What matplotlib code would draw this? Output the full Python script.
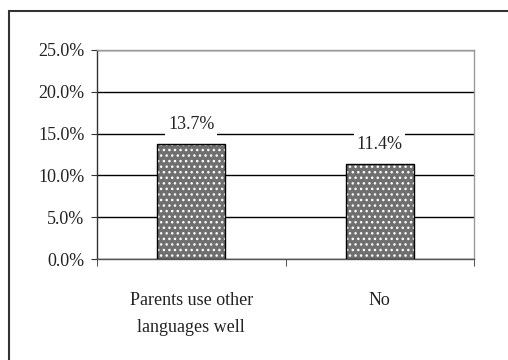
import matplotlib
matplotlib.use("Agg")
import matplotlib.pyplot as plt
from matplotlib.patches import Rectangle
from matplotlib.ticker import FixedLocator, FuncFormatter

categories = ["Parents use other\nlanguages well", "No"]
values = [13.7, 11.4]
yticks = [0, 5, 10, 15, 20, 25]

plt.rcParams['font.family'] = ['Liberation Serif', 'DejaVu Serif']
plt.rcParams['hatch.linewidth'] = 1.0

fig = plt.figure(figsize=(5.08, 3.6), dpi=100)
ax = fig.add_axes([97/508, 1-259/360, (474-97)/508, (259-50)/360])

x = list(range(len(categories)))
ax.bar(x, values, width=0.36, color='#6f6f6f', edgecolor='white', hatch='...', linewidth=0, zorder=3)
ax.bar(x, values, width=0.36, fill=False, edgecolor='black', linewidth=1.0, zorder=4)

for xi, v in zip(x, values):
    ax.annotate(f"{v:.1f}%", (xi, v), xytext=(0, 8), textcoords='offset points',
                ha='center', va='bottom', fontsize=13, color='#222222', zorder=5,
                bbox=dict(boxstyle='square,pad=0.15', fc='white', ec='none'))

ax.set_ylim(0, 25)
ax.set_xlim(-0.5, 1.5)
ax.set_yticks(yticks)
ax.yaxis.set_major_formatter(FuncFormatter(lambda v, p: f"{v:.1f}%"))
ax.yaxis.grid(True, color='black', linewidth=1.0, zorder=0)
ax.set_axisbelow(True)

ax.set_xticks(x)
ax.set_xticklabels(categories, fontsize=13, linespacing=1.75, color='#222222')
ax.tick_params(axis='x', which='major', length=0, pad=24)
ax.xaxis.set_minor_locator(FixedLocator([-0.5, 0.5, 1.5]))
ax.tick_params(axis='x', which='minor', length=5, direction='out', color='#333333')
ax.tick_params(axis='y', length=4, direction='out', labelsize=13, labelcolor='#222222', pad=5, color='#333333')

ax.spines['top'].set_color('#999999')
ax.spines['right'].set_color('#999999')
ax.spines['left'].set_color('#333333')
ax.spines['bottom'].set_color('#555555')
for s in ax.spines.values():
    s.set_linewidth(1.0)

fig.add_artist(Rectangle((9/508, -0.1), 1.2, 1.1 - 11/360, transform=fig.transFigure,
                         fill=False, edgecolor='#333333', linewidth=1.5))

fig.savefig("out.png", dpi=100)
